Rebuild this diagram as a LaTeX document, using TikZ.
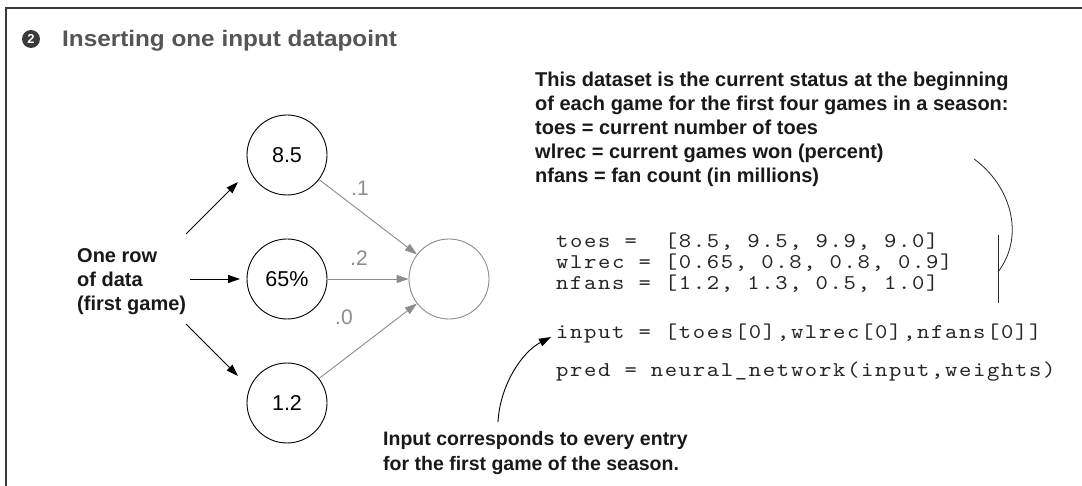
\documentclass[tikz,border=0pt]{standalone}
\usepackage{fontspec}
\setmainfont{Liberation Sans}
\newfontfamily\headfont{Liberation Sans}[FakeStretch=1.08]
\newfontfamily\codefont{lmmono10-regular}[Extension=.otf, FakeStretch=1.12, LetterSpace=7.9]
\usetikzlibrary{arrows.meta}

\definecolor{framegray}{HTML}{3A3A3A}
\definecolor{titlegray}{HTML}{555555}
\definecolor{wgray}{HTML}{8C8C8C}

\tikzset{
  frameline/.style={draw=framegray, line width=1.5pt},
  numdisc/.style={circle, fill=framegray, minimum size=18pt, inner sep=0pt,
                  text=white, font=\bfseries\fontsize{13}{13}\selectfont},
  titletext/.style={text=titlegray, inner sep=0pt,
                    font=\headfont\bfseries\fontsize{22.5}{26}\selectfont},
  inode/.style={circle, draw=black, line width=0.9pt, minimum size=80pt, inner sep=0pt,
                font=\fontsize{21.5}{24}\selectfont},
  onode/.style={circle, draw=wgray, line width=0.9pt, minimum size=80pt, inner sep=0pt},
  wlabel/.style={text=wgray, inner sep=0pt, font=\fontsize{21}{24}\selectfont},
  note/.style={inner sep=0pt, align=left, text=black!90,
               font=\bfseries\fontsize{20}{24}\selectfont},
  smallnote/.style={inner sep=0pt, align=left, text=black!90,
               font=\bfseries\fontsize{19.5}{25}\selectfont},
  code/.style={inner sep=0pt, text=black!85, font=\codefont\fontsize{21}{21}\selectfont},
  blk/.style={draw=black, line width=0.9pt, -{Triangle[length=12pt,width=8pt]}},
  gry/.style={draw=wgray, line width=0.9pt, -{Triangle[length=12pt,width=8pt]}},
  thin/.style={draw=black!85, line width=0.8pt},
}

\begin{document}
\begin{tikzpicture}[x=1pt,y=-1pt]
\useasboundingbox (0,0) rectangle (1082,486);
\fill[white] (0,0) rectangle (1082,486);

% panel frame (top and left edges)
\coordinate (fr) at (1082,8);
\coordinate (fc) at (6,8);
\coordinate (fb) at (6,486);
\draw[frameline] (fr) -- (fc) -- (fb);

% heading
\node[numdisc] (num) at (31,39) {2};
\node[titletext, anchor=base west] (title) at (62,47) {Inserting one input datapoint};

% input neurons and output neuron
\node[inode] (in1) at (287,155) {8.5};
\node[inode] (in2) at (287,279) {65\%};
\node[inode] (in3) at (287,403) {1.2};
\node[onode] (out) at (449,279) {};

% weighted connections
\draw[gry] (in1) -- (out);
\draw[gry] (in2) -- (out);
\draw[gry] (in3) -- (out);
\node[wlabel] (w1) at (360,188) {.1};
\node[wlabel] (w2) at (359,258) {.2};
\node[wlabel] (w3) at (344,317) {.0};

% the data row feeding the inputs
\node[note, anchor=north west] (row) at (77,248.5) {One row\\of data\\(first game)};
\coordinate (s1) at (186,234);
\coordinate (e1) at (238,182);
\coordinate (s2) at (190,279);
\coordinate (e2) at (240,279);
\coordinate (s3) at (186,324);
\coordinate (e3) at (238,376);
\draw[blk] (s1) -- (e1);
\draw[blk] (s2) -- (e2);
\draw[blk] (s3) -- (e3);

% dataset description
\node[note, anchor=north west] (dsnote) at (535,71.5)
  {This dataset is the current status at the beginning\\
   of each game for the first four games in a season:\\
   toes = current number of toes\\
   wlrec = current games won (percent)\\
   nfans = fan count (in millions)};

% code listing
\node[code, anchor=base west] (ctoes)  at (556,248) {toes =~~[8.5, 9.5, 9.9, 9.0]};
\node[code, anchor=base west] (cwlrec) at (556,269) {wlrec = [0.65, 0.8, 0.8, 0.9]};
\node[code, anchor=base west] (cnfans) at (556,290) {nfans = [1.2, 1.3, 0.5, 1.0]};
\node[code, anchor=base west] (cinput) at (556,339) {input = [toes[0],wlrec[0],nfans[0]]};
\node[code, anchor=base west] (cpred)  at (556,377) {pred = neural\_network(input,weights)};

% bracket tying the description to the arrays
\coordinate (bt) at (974,159);
\coordinate (bb) at (998,272);
\coordinate (vt) at (998,235);
\coordinate (vb) at (998,303);
\draw[thin] (bt) .. controls (1010,185) and (1026,235) .. (bb);
\draw[thin] (vt) -- (vb);

% note on the input vector
\node[smallnote, anchor=north west] (innote) at (383,431)
  {Input corresponds to every entry\\for the first game of the season.};
\coordinate (as) at (498,422);
\coordinate (ae) at (551,337);
\draw[blk] (as) .. controls (500,385) and (522,352) .. (ae);
\end{tikzpicture}
\end{document}
